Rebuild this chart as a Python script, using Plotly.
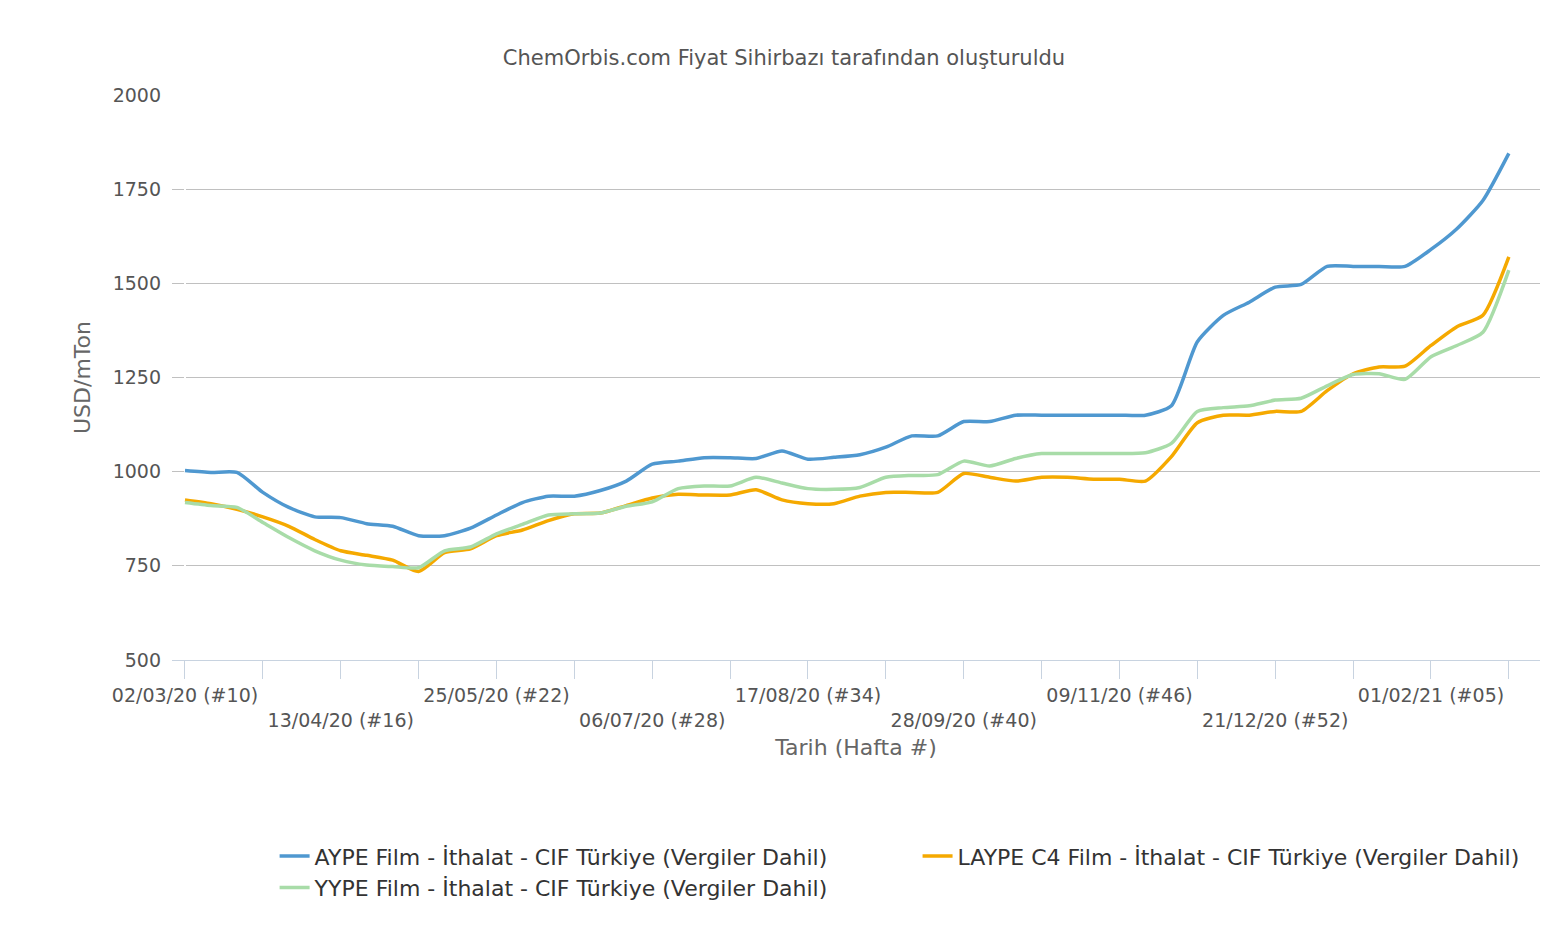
import plotly.graph_objects as go

weeks = list(range(52))
tick_idx = list(range(0, 52, 3))
date_labels = ["02/03/20 (#10)", "13/04/20 (#16)", "25/05/20 (#22)", "06/07/20 (#28)",
               "17/08/20 (#34)", "28/09/20 (#40)", "09/11/20 (#46)", "21/12/20 (#52)",
               "01/02/21 (#05)"]

aype = [1003, 998, 998, 945, 905, 880, 878, 862, 855, 830, 830, 850, 885, 918, 935, 935,
        950, 975, 1020, 1028, 1037, 1037, 1035, 1055, 1033, 1038, 1045, 1065, 1095, 1095,
        1133, 1133, 1150, 1150, 1150, 1150, 1150, 1150, 1175, 1345, 1415, 1450, 1490, 1497,
        1545, 1545, 1545, 1545, 1590, 1645, 1720, 1845]
laype = [925, 915, 900, 880, 855, 820, 790, 778, 765, 735, 785, 795, 830, 845, 870, 888,
         890, 910, 930, 940, 938, 938, 952, 925, 915, 915, 935, 945, 945, 945, 995, 985,
         975, 985, 985, 980, 980, 975, 1040, 1130, 1150, 1150, 1160, 1160, 1215, 1260,
         1278, 1280, 1335, 1385, 1415, 1570]
yype = [918, 910, 905, 865, 825, 790, 765, 752, 748, 745, 790, 800, 835, 860, 885, 888,
        890, 908, 920, 955, 962, 962, 985, 970, 955, 953, 958, 985, 990, 992, 1028, 1015,
        1035, 1048, 1048, 1048, 1048, 1050, 1075, 1160, 1170, 1175, 1190, 1195, 1228, 1258,
        1260, 1245, 1305, 1335, 1370, 1535]

names = ["AYPE Film - İthalat - CIF Türkiye (Vergiler Dahil)",
         "LAYPE C4 Film - İthalat - CIF Türkiye (Vergiler Dahil)",
         "YYPE Film - İthalat - CIF Türkiye (Vergiler Dahil)"]
colors = ["#4f98d0", "#f5a900", "#a8dca8"]

# labels alternate between two rows; blank for the in-between ticks
tick_text = []
for k, i in enumerate(tick_idx):
    if k % 2 == 1:
        tick_text.append("")
    else:
        lab = date_labels[k // 2]
        tick_text.append(lab if (k // 2) % 2 == 0 else "<br>" + lab)

fig = go.Figure()
for ys, n, c in zip([aype, laype, yype], names, colors):
    fig.add_trace(go.Scatter(x=weeks, y=ys, name=n, mode="lines",
                             line=dict(color=c, width=3.5, shape="spline", smoothing=0.6)))

fig.update_layout(
    width=1552, height=930, plot_bgcolor="white", paper_bgcolor="white",
    font=dict(family="DejaVu Sans", color="#555", size=19),
    title=dict(text="ChemOrbis.com Fiyat Sihirbazı tarafından oluşturuldu",
               x=0.5, y=0.955, xanchor="center", font=dict(size=21, color="#555")),
    margin=dict(l=164, r=20, t=87, b=278, autoexpand=False),
    legend=dict(orientation="h", x=0.075, y=-0.31, xanchor="left", yanchor="top",
                entrywidth=0.47, entrywidthmode="fraction", font=dict(size=22, color="#333")),
    showlegend=True,
)
fig.update_xaxes(range=[-0.5, 52.2], tickvals=tick_idx, ticktext=tick_text,
                 ticks="outside", ticklen=18, tickcolor="#c8d3e0", showline=True,
                 linecolor="#c8d3e0", showgrid=False, tickangle=0, automargin=False,
                 title=dict(text="Tarih (Hafta #)", standoff=10, font=dict(size=22, color="#666")))
fig.update_yaxes(range=[500, 2000], dtick=250, showgrid=True, gridcolor="#c0c0c0",
                 zeroline=False, ticklabelstandoff=10, automargin=False,
                 title=dict(text="USD/mTon", font=dict(size=22, color="#666")))

fig.write_html("out.html")
